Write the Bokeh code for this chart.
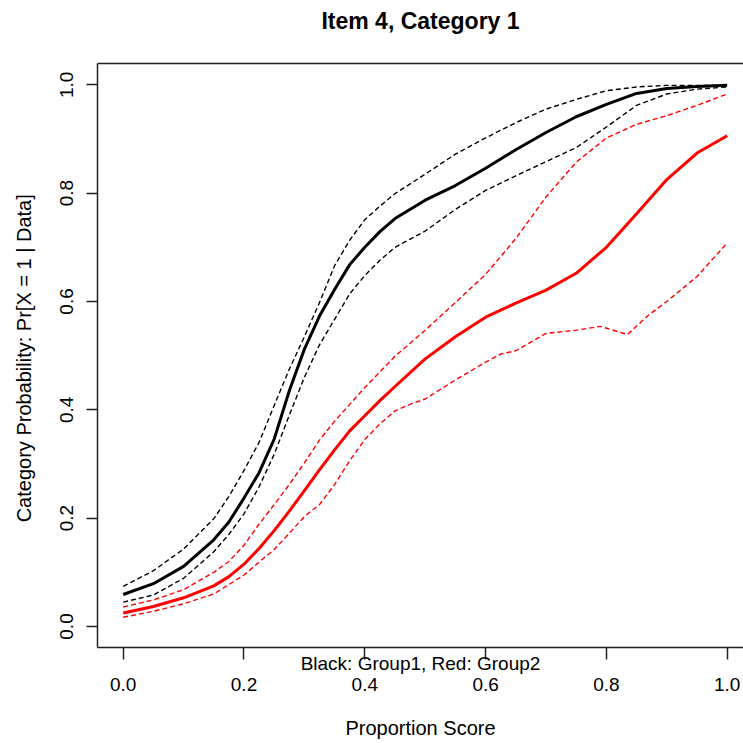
from bokeh.plotting import figure
from bokeh.models import Range1d, LinearAxis, FixedTicker, PrintfTickFormatter
from bokeh.embed import file_html
from bokeh.resources import INLINE

# ---- data ----
x_grid = [0.00, 0.05, 0.10, 0.15, 0.175, 0.20, 0.225, 0.25, 0.275, 0.30, 0.325, 0.35, 0.375,
          0.40, 0.425, 0.45, 0.50, 0.55, 0.60, 0.65, 0.70, 0.75, 0.80, 0.85, 0.90, 0.95, 1.00]

group1_mean = [0.059, 0.079, 0.111, 0.160, 0.193, 0.237, 0.284, 0.346, 0.435, 0.512, 0.573, 0.622, 0.668,
               0.700, 0.729, 0.753, 0.787, 0.814, 0.846, 0.880, 0.912, 0.941, 0.964, 0.984, 0.993, 0.997, 0.999]
group1_upper = [0.074, 0.103, 0.143, 0.199, 0.240, 0.288, 0.340, 0.408, 0.475, 0.535, 0.598, 0.666, 0.713,
                0.751, 0.776, 0.799, 0.835, 0.872, 0.902, 0.930, 0.955, 0.973, 0.989, 0.996, 0.999, 0.999, 0.999]
group1_lower = [0.045, 0.058, 0.089, 0.138, 0.170, 0.208, 0.258, 0.318, 0.390, 0.460, 0.520, 0.567, 0.614,
                0.648, 0.676, 0.700, 0.730, 0.770, 0.805, 0.832, 0.858, 0.884, 0.922, 0.962, 0.983, 0.992, 0.996]

group2_mean = [0.025, 0.037, 0.053, 0.075, 0.092, 0.115, 0.144, 0.177, 0.213, 0.251, 0.289, 0.326, 0.361,
               0.389, 0.417, 0.443, 0.494, 0.535, 0.571, 0.597, 0.621, 0.652, 0.700, 0.762, 0.825, 0.874, 0.906]
group2_upper = [0.036, 0.049, 0.068, 0.100, 0.120, 0.150, 0.189, 0.225, 0.262, 0.302, 0.344, 0.379, 0.410,
                0.441, 0.470, 0.499, 0.547, 0.598, 0.650, 0.716, 0.793, 0.857, 0.902, 0.927, 0.943, 0.962, 0.983]
group2_lower_x = [0.00, 0.05, 0.10, 0.15, 0.20, 0.225, 0.25, 0.275, 0.30, 0.325, 0.35, 0.375, 0.40, 0.425,
                  0.45, 0.475, 0.50, 0.55, 0.60, 0.625, 0.65, 0.70, 0.75, 0.79, 0.835, 0.87, 0.90, 0.95, 1.00]
group2_lower = [0.017, 0.028, 0.042, 0.060, 0.095, 0.119, 0.142, 0.172, 0.203, 0.225, 0.262, 0.306, 0.345, 0.374,
                0.398, 0.410, 0.420, 0.455, 0.488, 0.503, 0.509, 0.541, 0.547, 0.554, 0.539, 0.575, 0.600, 0.646, 0.708]

x_ticks = [0.0, 0.2, 0.4, 0.6, 0.8, 1.0]
y_ticks = [0.0, 0.2, 0.4, 0.6, 0.8, 1.0]

title_text = "Item 4, Category 1"
x_label = "Proportion Score"
y_label = "Category Probability:  Pr[X = 1 | Data]"
note_text = "Black: Group1, Red: Group2"

FONT = "Liberation Sans"
AX_COL = "#222222"
AX_W = 1.5

p = figure(width=743, height=743, output_backend="svg", toolbar_location=None,
           title_location=None,
           x_range=Range1d(-0.04255, 1.0270), y_range=Range1d(-0.0388, 1.0393),
           x_axis_location=None, y_axis_location=None,
           min_border_left=97, min_border_right=0, min_border_top=63, min_border_bottom=96)
p.outline_line_color = None
p.xgrid.visible = False
p.ygrid.visible = False
p.background_fill_color = "white"
p.border_fill_color = "white"

# bottom axis 1: box line, ticks, tick labels, and the group note pulled up above the labels
xaxis = LinearAxis(ticker=FixedTicker(ticks=x_ticks), formatter=PrintfTickFormatter(format="%.1f"),
                   axis_label=note_text)
xaxis.axis_line_color = AX_COL
xaxis.axis_line_width = AX_W
xaxis.major_tick_line_color = AX_COL
xaxis.major_tick_line_width = AX_W
xaxis.major_tick_out = 12
xaxis.major_tick_in = 0
xaxis.minor_tick_line_color = None
xaxis.major_label_standoff = 18
xaxis.major_label_text_font = FONT
xaxis.major_label_text_font_size = "19px"
xaxis.major_label_text_color = "black"
xaxis.axis_label_text_font = FONT
xaxis.axis_label_text_font_size = "19px"
xaxis.axis_label_text_font_style = "normal"
xaxis.axis_label_text_color = "black"
xaxis.axis_label_standoff = -41
p.add_layout(xaxis, "below")

# bottom axis 2: only the axis title
xaxis2 = LinearAxis(ticker=FixedTicker(ticks=[]), axis_label=x_label)
xaxis2.axis_line_color = None
xaxis2.major_tick_line_color = None
xaxis2.minor_tick_line_color = None
xaxis2.major_tick_out = 0
xaxis2.major_tick_in = 0
xaxis2.major_label_standoff = 0
xaxis2.axis_label_text_font = FONT
xaxis2.axis_label_text_font_size = "20px"
xaxis2.axis_label_text_font_style = "normal"
xaxis2.axis_label_text_color = "black"
xaxis2.axis_label_standoff = 40
p.add_layout(xaxis2, "below")

yaxis = LinearAxis(ticker=FixedTicker(ticks=y_ticks), formatter=PrintfTickFormatter(format="%.1f"),
                   axis_label=y_label)
yaxis.axis_line_color = AX_COL
yaxis.axis_line_width = AX_W
yaxis.major_tick_line_color = AX_COL
yaxis.major_tick_line_width = AX_W
yaxis.major_tick_out = 11
yaxis.major_tick_in = 0
yaxis.minor_tick_line_color = None
yaxis.major_label_orientation = "vertical"
yaxis.major_label_standoff = 13
yaxis.major_label_text_font = FONT
yaxis.major_label_text_font_size = "19px"
yaxis.major_label_text_color = "black"
yaxis.axis_label_text_font = FONT
yaxis.axis_label_text_font_size = "20px"
yaxis.axis_label_text_font_style = "normal"
yaxis.axis_label_text_color = "black"
yaxis.axis_label_standoff = 23
p.add_layout(yaxis, "left")

# top: box line plus the chart title
top_axis = LinearAxis(ticker=FixedTicker(ticks=[]), axis_label=title_text)
top_axis.axis_line_color = AX_COL
top_axis.axis_line_width = AX_W
top_axis.major_tick_line_color = None
top_axis.minor_tick_line_color = None
top_axis.major_tick_out = 0
top_axis.major_tick_in = 0
top_axis.major_label_standoff = 0
top_axis.axis_label_text_font = FONT
top_axis.axis_label_text_font_size = "23px"
top_axis.axis_label_text_font_style = "bold"
top_axis.axis_label_text_color = "black"
top_axis.axis_label_standoff = 30
p.add_layout(top_axis, "above")

# curves
DASH = "5 3"
p.line(x_grid, group1_upper, line_color="black", line_width=1.4, line_dash=DASH)
p.line(x_grid, group1_lower, line_color="black", line_width=1.4, line_dash=DASH)
p.line(x_grid, group1_mean, line_color="black", line_width=3)
p.line(x_grid, group2_upper, line_color="red", line_width=1.4, line_dash=DASH)
p.line(group2_lower_x, group2_lower, line_color="red", line_width=1.4, line_dash=DASH)
p.line(x_grid, group2_mean, line_color="red", line_width=3)

open("out.html", "w").write(file_html(p, INLINE))
